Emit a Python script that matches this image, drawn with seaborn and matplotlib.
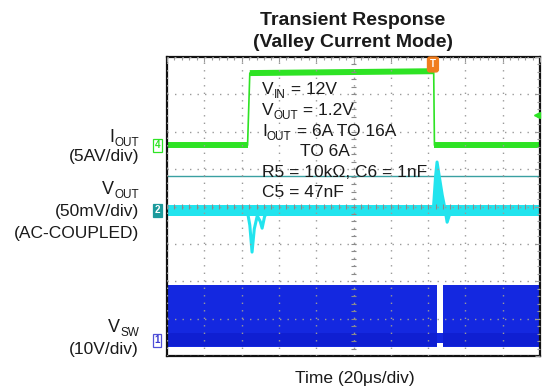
import numpy as np
import pandas as pd
import matplotlib
matplotlib.use("Agg")
import matplotlib.pyplot as plt
import seaborn as sns

# ---------------- data (scope divisions: x 0..10, y 0..8) ----------------
iout_t = [0.0, 2.16, 2.22, 7.15, 7.17, 10.0]
iout_y = [5.64, 5.64, 7.57, 7.62, 5.64, 5.64]
iout_seg = [0, 0, 1, 1, 2, 2]

vout_base = 3.90
vout_t = [0.0, 2.15, 2.22, 2.28, 2.34, 2.42, 2.50, 2.55, 2.62, 2.80,
          7.14, 7.20, 7.24, 7.30, 7.38, 7.45, 7.51, 7.58, 7.67, 10.0]
vout_y = [3.90, 3.90, 3.50, 2.78, 3.40, 3.75, 3.60, 3.42, 3.75, 3.90,
          3.90, 4.80, 5.19, 4.80, 4.30, 3.95, 3.58, 3.80, 3.90, 3.90]
cursor_y = 4.81

vsw_on1 = [0.0, 7.24]
vsw_gap = [7.24, 7.40]
vsw_on2 = [7.40, 10.0]
vsw_high = 1.90
vsw_low = 0.24
vsw_dense = 0.62
vsw_gap_top = 0.61

trig_t = 7.13
trig_level = 6.44

ch_marks = [("4", 5.64), ("2", 3.90), ("1", 0.42)]

# (main, subscript, rest, x px, baseline px)
annot_lines = [("V", "IN", " = 12V", 262, 94),
               ("V", "OUT", " = 1.2V", 262, 115),
               ("I", "OUT", " = 6A TO 16A", 262, 136),
               ("TO 6A", "", "", 300, 156),
               ("R5 = 10k\u03a9, C6 = 1nF", "", "", 262, 177),
               ("C5 = 47nF", "", "", 262, 197)]
left_labels = [("I", "OUT", 142), ("(5AV/div)", "", 161),
               ("V", "OUT", 194), ("(50mV/div)", "", 216),
               ("(AC-COUPLED)", "", 238), ("V", "SW", 332),
               ("(10V/div)", "", 354)]

# ---------------- style ----------------
sns.set_style("white")
plt.rcParams["font.family"] = ["Liberation Sans", "DejaVu Sans"]

GREEN = "#2ee324"
CYAN = "#22e4ee"
TEAL = "#3aa0a2"
BLUE = "#1428e0"
DBLUE = "#0f1fd2"
ORANGE = "#f07d1e"
TXT = "#1a1a1a"
FS = 12.5
SUBFS = 8.5
SUBDROP = 4  # px

W, H = 544, 391
fig = plt.figure(figsize=(W / 100, H / 100), dpi=100)
L, R, T, B = 167, 540, 57, 356
ax = fig.add_axes([L / W, 1 - B / H, (R - L) / W, (B - T) / H])
ax.set_xlim(0, 10)
ax.set_ylim(0, 8)

# ---------------- V_SW (blue band) ----------------
ax.fill_between(vsw_on1, vsw_low, vsw_high, color=BLUE, lw=0, zorder=1)
ax.fill_between(vsw_on2, vsw_low, vsw_high, color=BLUE, lw=0, zorder=1)
ax.fill_between(vsw_on1, vsw_low + 0.04, vsw_dense, color=DBLUE, lw=0, zorder=1)
ax.fill_between(vsw_on2, vsw_low + 0.04, vsw_dense, color=DBLUE, lw=0, zorder=1)
ax.fill_between(vsw_gap, vsw_low + 0.1, vsw_gap_top, color=BLUE, lw=0, zorder=1)

# ---------------- V_OUT (cyan) ----------------
ax.axhline(cursor_y, color=TEAL, lw=1.0, zorder=1.5)
ax.fill_between([0, 10], vout_base - 0.15, vout_base + 0.15, color=CYAN, lw=0, zorder=1.6)
vt = np.array(vout_t)
vy = np.array(vout_y)
mask = (vt >= 7.14) & (vt <= 7.45)
ax.fill_between(vt[mask], vout_base, vy[mask], color=CYAN, lw=0, zorder=1.6)
df_v = pd.DataFrame({"t": vout_t, "y": vout_y})
sns.lineplot(data=df_v, x="t", y="y", ax=ax, color=CYAN, lw=2.2,
             estimator=None, sort=False, zorder=1.7)

# ---------------- I_OUT (green) ----------------
df_i = pd.DataFrame({"t": iout_t, "y": iout_y})
sns.lineplot(data=df_i, x="t", y="y", ax=ax, color=GREEN, lw=1.2,
             estimator=None, sort=False, zorder=1.8)
df_is = pd.DataFrame({"t": iout_t, "y": iout_y, "seg": iout_seg})
sns.lineplot(data=df_is, x="t", y="y", units="seg", ax=ax, color=GREEN, lw=4.3,
             estimator=None, sort=False, zorder=1.8, solid_capstyle="butt")

# ---------------- grid / graticule ----------------
ax.set_xticks(np.arange(0, 11, 1))
ax.set_yticks(np.arange(0, 9, 1))
ax.set_xticks(np.arange(0, 10.01, 0.2), minor=True)
ax.set_yticks(np.arange(0, 8.01, 0.2), minor=True)
ax.set_axisbelow(False)
ax.grid(True, which="major", color="#9a9a9a", lw=1.0, linestyle=(0, (1, 4.4)))
ax.tick_params(which="both", direction="in", top=True, right=True,
               labelbottom=False, labelleft=False, color="#9a9a9a")
ax.tick_params(which="major", length=3.5, width=0.8)
ax.tick_params(which="minor", length=2.5, width=0.8)
ax.vlines(np.arange(0, 10.01, 0.2), 3.94, 4.06, color="#8a8a8a", lw=0.8, zorder=2.6)
ax.hlines(np.arange(0, 8.01, 0.2), 4.94, 5.06, color="#8a8a8a", lw=0.8, zorder=2.6)
ax.set_xlabel("")
ax.set_ylabel("")
for s in ax.spines.values():
    s.set_color("#111111")
    s.set_linewidth(1.6)

# trigger marks
ax.text(trig_t, 7.8, "T", color="white", fontsize=7, weight="bold", ha="center",
        va="center", zorder=5,
        bbox=dict(boxstyle="round,pad=0.25", fc=ORANGE, ec=ORANGE))
ax.plot([9.92], [trig_level], marker="<", color=GREEN, ms=5, zorder=5, clip_on=False)

# channel markers
ch_style = {
    "4": dict(color=GREEN, bbox=dict(boxstyle="square,pad=0.15", fc="white", ec=GREEN, lw=0.9)),
    "2": dict(color="white", bbox=dict(boxstyle="square,pad=0.15", fc="#1c9a9c", ec="#1c9a9c", lw=0.9)),
    "1": dict(color="#3a3ad0", bbox=dict(boxstyle="square,pad=0.15", fc="white", ec="#5050d8", lw=0.9)),
}
for lab, yv in ch_marks:
    ax.text(-0.26, yv, lab, fontsize=7, ha="center", va="center", clip_on=False,
            zorder=5, weight="bold", **ch_style[lab])


def fy(px):
    return 1 - px / H


# annotation block (left aligned, with real subscripts)
for main, sub, rest, xpx, bpx in annot_lines:
    t_main = fig.text(xpx / W, fy(bpx), main, fontsize=FS, color=TXT,
                      ha="left", va="baseline")
    if sub:
        t_sub = ax.annotate(sub, xy=(1, fy(bpx + SUBDROP)),
                            xycoords=(t_main, "figure fraction"),
                            fontsize=SUBFS, color=TXT, ha="left", va="baseline",
                            annotation_clip=False)
        ax.annotate(rest, xy=(1, fy(bpx)), xycoords=(t_sub, "figure fraction"),
                    fontsize=FS, color=TXT, ha="left", va="baseline",
                    annotation_clip=False)

# left labels (right aligned)
for main, sub, bpx in left_labels:
    if sub:
        t_sub = fig.text(139 / W, fy(bpx + SUBDROP), sub, fontsize=SUBFS, color=TXT,
                         ha="right", va="baseline")
        ax.annotate(main, xy=(0, fy(bpx)), xycoords=(t_sub, "figure fraction"),
                    fontsize=FS + 0.5, color=TXT, ha="right", va="baseline",
                    annotation_clip=False)
    else:
        fig.text(139 / W, fy(bpx), main, fontsize=FS, color=TXT,
                 ha="right", va="baseline")

# title and x label
fig.text(353 / W, fy(25), "Transient Response", fontsize=14, weight="bold",
         color=TXT, ha="center", va="baseline")
fig.text(353 / W, fy(47), "(Valley Current Mode)", fontsize=14, weight="bold",
         color=TXT, ha="center", va="baseline")
fig.text(355 / W, fy(383), "Time (20\u03bcs/div)", fontsize=FS,
         color=TXT, ha="center", va="baseline")

fig.savefig("out.png", dpi=100)
